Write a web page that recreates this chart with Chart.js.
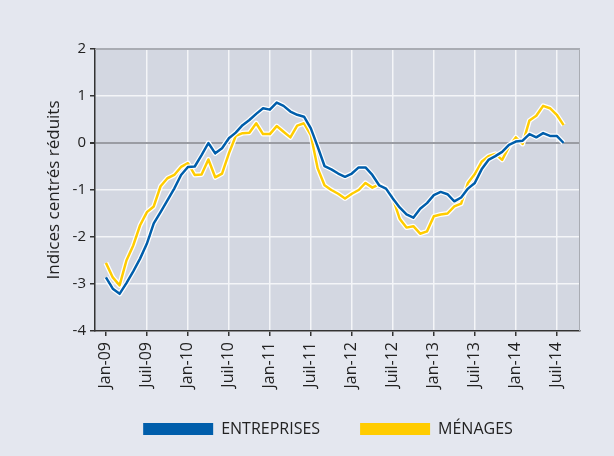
<!DOCTYPE html>
<html>
<head>
<meta charset="utf-8">
<script src="https://cdn.jsdelivr.net/npm/chart.js@4.4.1/dist/chart.umd.min.js"></script>
<style>
html, body { margin: 0; padding: 0; background: #e4e7ef; }
</style>
</head>
<body>
<canvas id="chart" width="614" height="456"></canvas>
<script>
// Monthly indices, Jan-09 .. Aug-14
const tickLabels = ['Jan-09', 'Juil-09', 'Jan-10', 'Juil-10', 'Jan-11', 'Juil-11',
                    'Jan-12', 'Juil-12', 'Jan-13', 'Juil-13', 'Jan-14', 'Juil-14'];

const entreprises = [
  -2.86, -3.10, -3.21, -2.98, -2.73, -2.46, -2.14, -1.71, -1.47, -1.22, -0.97, -0.68,
  -0.51, -0.50, -0.26, 0.00, -0.22, -0.11, 0.10, 0.22, 0.38, 0.49, 0.62, 0.74,
  0.71, 0.86, 0.79, 0.67, 0.60, 0.56, 0.31, -0.08, -0.49, -0.56, -0.65, -0.72,
  -0.65, -0.52, -0.52, -0.68, -0.90, -0.97, -1.18, -1.37, -1.52, -1.59, -1.40, -1.28,
  -1.11, -1.04, -1.09, -1.24, -1.16, -0.97, -0.85, -0.56, -0.36, -0.28, -0.19, -0.04,
  0.03, 0.05, 0.19, 0.12, 0.21, 0.15, 0.15, 0.00
];

const menages = [
  -2.55, -2.86, -3.03, -2.50, -2.18, -1.75, -1.47, -1.35, -0.92, -0.75, -0.68, -0.51,
  -0.43, -0.68, -0.67, -0.35, -0.73, -0.65, -0.22, 0.15, 0.21, 0.22, 0.42, 0.19,
  0.19, 0.36, 0.24, 0.12, 0.37, 0.42, 0.17, -0.54, -0.90, -1.00, -1.08, -1.18,
  -1.08, -1.00, -0.85, -0.95, -0.88, -0.97, -1.18, -1.61, -1.80, -1.77, -1.93, -1.88,
  -1.56, -1.52, -1.50, -1.35, -1.29, -0.85, -0.66, -0.40, -0.28, -0.23, -0.36, -0.08,
  0.12, -0.02, 0.48, 0.58, 0.79, 0.74, 0.60, 0.38
];

const toPoints = arr => arr.map((v, i) => ({ x: i, y: v }));

const FONT = '"Open Sans", "DejaVu Sans", sans-serif';
const BLUE = '#005eab';
const YELLOW = '#ffcc00';

// Plot background, grey top/right frame, legend nudge
const plotFrame = {
  id: 'plotFrame',
  afterLayout(chart) {
    const lg = chart.legend;
    lg.left += 38;
    lg.right += 38;
    lg.top -= 14;
  },
  beforeDraw(chart) {
    const { ctx, chartArea: a } = chart;
    ctx.save();
    ctx.fillStyle = '#d3d7e1';
    ctx.fillRect(a.left, a.top, a.right - a.left, a.bottom - a.top);
    ctx.restore();
  },
  beforeDatasetsDraw(chart) {
    const { ctx, chartArea: a } = chart;
    ctx.save();
    ctx.strokeStyle = '#a9acb3';
    ctx.lineWidth = 1;
    ctx.beginPath();
    ctx.moveTo(a.left, a.top + 0.5);
    ctx.lineTo(a.right - 0.5, a.top + 0.5);
    ctx.lineTo(a.right - 0.5, a.bottom);
    ctx.stroke();
    ctx.restore();
  }
};

new Chart(document.getElementById('chart'), {
  type: 'line',
  data: {
    datasets: [
      { label: 'ENTREPRISES', data: toPoints(entreprises), borderColor: BLUE, backgroundColor: BLUE,
        borderWidth: 2.5, order: 1 },
      { label: '_halo1', data: toPoints(entreprises), borderColor: '#ffffff',
        borderWidth: 5, order: 2 },
      { label: 'MÉNAGES', data: toPoints(menages), borderColor: YELLOW, backgroundColor: YELLOW,
        borderWidth: 2.5, order: 3 },
      { label: '_halo2', data: toPoints(menages), borderColor: '#ffffff',
        borderWidth: 5, order: 4 }
    ]
  },
  options: {
    responsive: false,
    animation: false,
    elements: { point: { radius: 0 }, line: { tension: 0, borderJoinStyle: 'round' } },
    layout: { padding: { left: 0, right: 34, top: 49, bottom: 15 } },
    scales: {
      x: {
        type: 'linear',
        min: -1.6,
        max: 69.4,
        afterBuildTicks: scale => {
          scale.ticks = tickLabels.map((t, i) => ({ value: i * 6 }));
        },
        afterFit: scale => { scale.height = 64; },
        ticks: {
          autoSkip: false,
          minRotation: 90,
          maxRotation: 90,
          padding: 6,
          color: '#222',
          font: { family: FONT, size: 16 },
          callback: (v) => tickLabels[Math.round(v / 6)]
        },
        grid: {
          color: c => (c.tick && c.tick.value === 0) ? 'rgba(0,0,0,0)' : '#f4f5f8',
          lineWidth: 1.5,
          tickColor: '#333',
          tickLength: 5
        },
        border: { color: '#333', width: 1.5 }
      },
      y: {
        min: -4,
        max: 2,
        afterFit: scale => { scale.width = 95; },
        ticks: {
          stepSize: 1,
          padding: 4,
          color: '#222',
          font: { family: FONT, size: 15 },
          callback: v => String(v).replace('−', '-')
        },
        grid: {
          color: c => c.tick.value === 0 ? '#9a9ca3' : (c.tick.value === 2 ? '#a9acb3' : '#f4f5f8'),
          lineWidth: c => c.tick.value === 0 ? 2 : 1.5,
          tickColor: '#333',
          tickLength: 5
        },
        border: { color: '#333', width: 1.5 },
        title: {
          display: true,
          text: 'Indices centrés réduits',
          color: '#222',
          font: { family: FONT, size: 17 },
          padding: { top: 44, bottom: 6 }
        }
      }
    },
    plugins: {
      legend: {
        position: 'bottom',
        maxHeight: 46,
        labels: {
          generateLabels: chart => Chart.defaults.plugins.legend.labels.generateLabels(chart)
            .map(item => Object.assign(item, { lineWidth: 0, strokeStyle: 'rgba(0,0,0,0)' })),
          filter: item => !item.text.startsWith('_'),
          boxWidth: 70,
          boxHeight: 12,
          padding: 40,
          color: '#222',
          font: { family: FONT, size: 16 }
        }
      },
      tooltip: { enabled: false }
    }
  },
  plugins: [plotFrame]
});
</script>
</body>
</html>
